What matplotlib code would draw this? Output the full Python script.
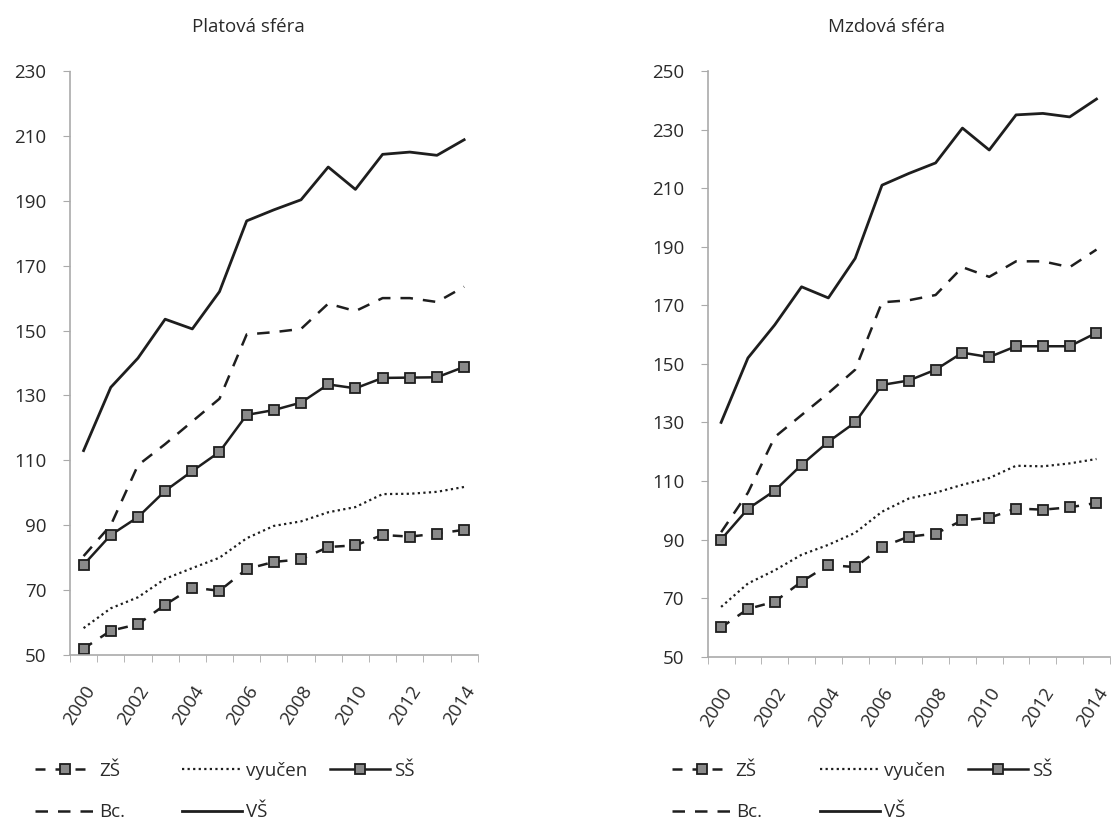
import numpy as np
import matplotlib.pyplot as plt

roky = list(range(2000, 2015))

# Platova sfera
plat_zs = [52, 57.5, 59.5, 65.5, 70.8, 69.8, 76.5, 78.7, 79.5, 83.3, 83.8, 87, 86.5, 87.4, 88.6]
plat_vyucen = [58.3, 64.4, 67.8, 73.5, 76.8, 80, 86, 89.8, 91.2, 94, 95.6, 99.6, 99.7, 100.3, 101.8]
plat_ss = [77.8, 87, 92.5, 100.6, 106.7, 112.6, 124, 125.5, 127.8, 133.4, 132.2, 135.4, 135.5, 135.6, 138.8]
plat_bc = [80.5, 90, 108.5, 115, 122, 129, 148.8, 149.5, 150.5, 158.3, 156, 160, 160, 158.8, 163.5]
plat_vs = [113, 132.5, 141.5, 153.5, 150.5, 162, 183.8, 187.2, 190.3, 200.4, 193.5, 204.3, 205, 204, 208.8]

# Mzdova sfera
mzd_zs = [60, 66.3, 68.8, 75.6, 81.3, 80.6, 87.5, 91, 92, 96.6, 97.4, 100.6, 100.2, 101, 102.5]
mzd_vyucen = [67, 75, 79.5, 84.8, 88.2, 92.3, 99.5, 104, 106, 108.7, 111, 115.2, 115, 116, 117.5]
mzd_ss = [90, 100.5, 106.7, 115.5, 123.4, 130, 142.8, 144.3, 148, 153.8, 152.3, 156, 156, 156, 160.6]
mzd_bc = [92.5, 106, 125, 132.5, 140, 148, 171, 171.7, 173.5, 183, 179.7, 185, 185, 183, 189]
mzd_vs = [130, 152, 163.3, 176.3, 172.5, 186, 211, 215, 218.6, 230.5, 223, 235, 235.5, 234.3, 240.4]

tituly = ['Platová sféra', 'Mzdová sféra']
rozsahy = [(50, 230), (50, 250)]
legenda = ['ZŠ', 'vyučen', 'SŠ', 'Bc.', 'VŠ']

plt.rcParams['font.family'] = ['Open Sans', 'DejaVu Sans']
barva = '#1e1e1e'
text_barva = '#2a2a2a'

fig = plt.figure(figsize=(11.11, 8.25), dpi=100)
ax1 = fig.add_axes([0.063, 0.206, 0.367, 0.708])
ax2 = fig.add_axes([0.637, 0.204, 0.362, 0.710])

data = [
    (ax1, plat_zs, plat_vyucen, plat_ss, plat_bc, plat_vs),
    (ax2, mzd_zs, mzd_vyucen, mzd_ss, mzd_bc, mzd_vs),
]

# kde zacinaji sloupce legendy (v pixelech obrazku)
sloupce_leg = [[35, 182, 330], [672, 820, 968]]

x = np.arange(len(roky))

for i, (ax, zs, vy, ss, bc, vs) in enumerate(data):
    l_zs, = ax.plot(x, zs, color=barva, lw=1.8, dashes=(4, 4), marker='s', ms=6.5,
                    mfc='#8a8a8a', mec=barva, mew=1.3)
    l_vy, = ax.plot(x, vy, color=barva, lw=1.6, dashes=(1, 1.5))
    l_ss, = ax.plot(x, ss, color=barva, lw=1.8, marker='s', ms=6.5,
                    mfc='#8a8a8a', mec=barva, mew=1.3)
    l_bc, = ax.plot(x, bc, color=barva, lw=1.8, dashes=(5, 4))
    l_vs, = ax.plot(x, vs, color=barva, lw=2)

    ax.set_xlim(-0.5, len(roky) - 0.5)
    ax.set_ylim(*rozsahy[i])
    ax.set_yticks(np.arange(rozsahy[i][0], rozsahy[i][1] + 1, 20))
    ax.set_xticks(x[::2])
    ax.set_xticklabels([str(r) for r in roky[::2]], rotation=57, ha='right',
                       rotation_mode='anchor', fontsize=13.5, color=text_barva)
    ax.set_xticks(np.arange(-0.5, len(roky), 1), minor=True)
    ax.tick_params(axis='x', which='major', length=0, pad=20)
    ax.tick_params(axis='x', which='minor', length=5, color='#aaa', direction='out')
    ax.tick_params(axis='y', length=5, color='#aaa', labelsize=13.5, labelcolor=text_barva, pad=12)
    for s in ['top', 'right']:
        ax.spines[s].set_visible(False)
    for s in ['left', 'bottom']:
        ax.spines[s].set_color('#aaa')
        ax.spines[s].set_linewidth(1.2)
        ax.spines[s].set_linestyle((0, (2, 1)))

    sloupce = [([l_zs, l_bc], [legenda[0], legenda[3]]),
               ([l_vy, l_vs], [legenda[1], legenda[4]]),
               ([l_ss], [legenda[2]])]
    for (h, lab), px in zip(sloupce, sloupce_leg[i]):
        fig.legend(h, lab, loc='upper left', bbox_to_anchor=(px / 1111, 1 - 762 / 825),
                   frameon=False, fontsize=13.5, handlelength=3.2, handletextpad=0.2,
                   labelspacing=1.25, borderaxespad=0, borderpad=0, labelcolor=text_barva)

fig.text(248 / 1111, 1 - 27 / 825, tituly[0], ha='center', va='center', fontsize=13.5, color=text_barva)
fig.text(887 / 1111, 1 - 27 / 825, tituly[1], ha='center', va='center', fontsize=13.5, color=text_barva)

fig.savefig('out.png', dpi=100, facecolor='white')
